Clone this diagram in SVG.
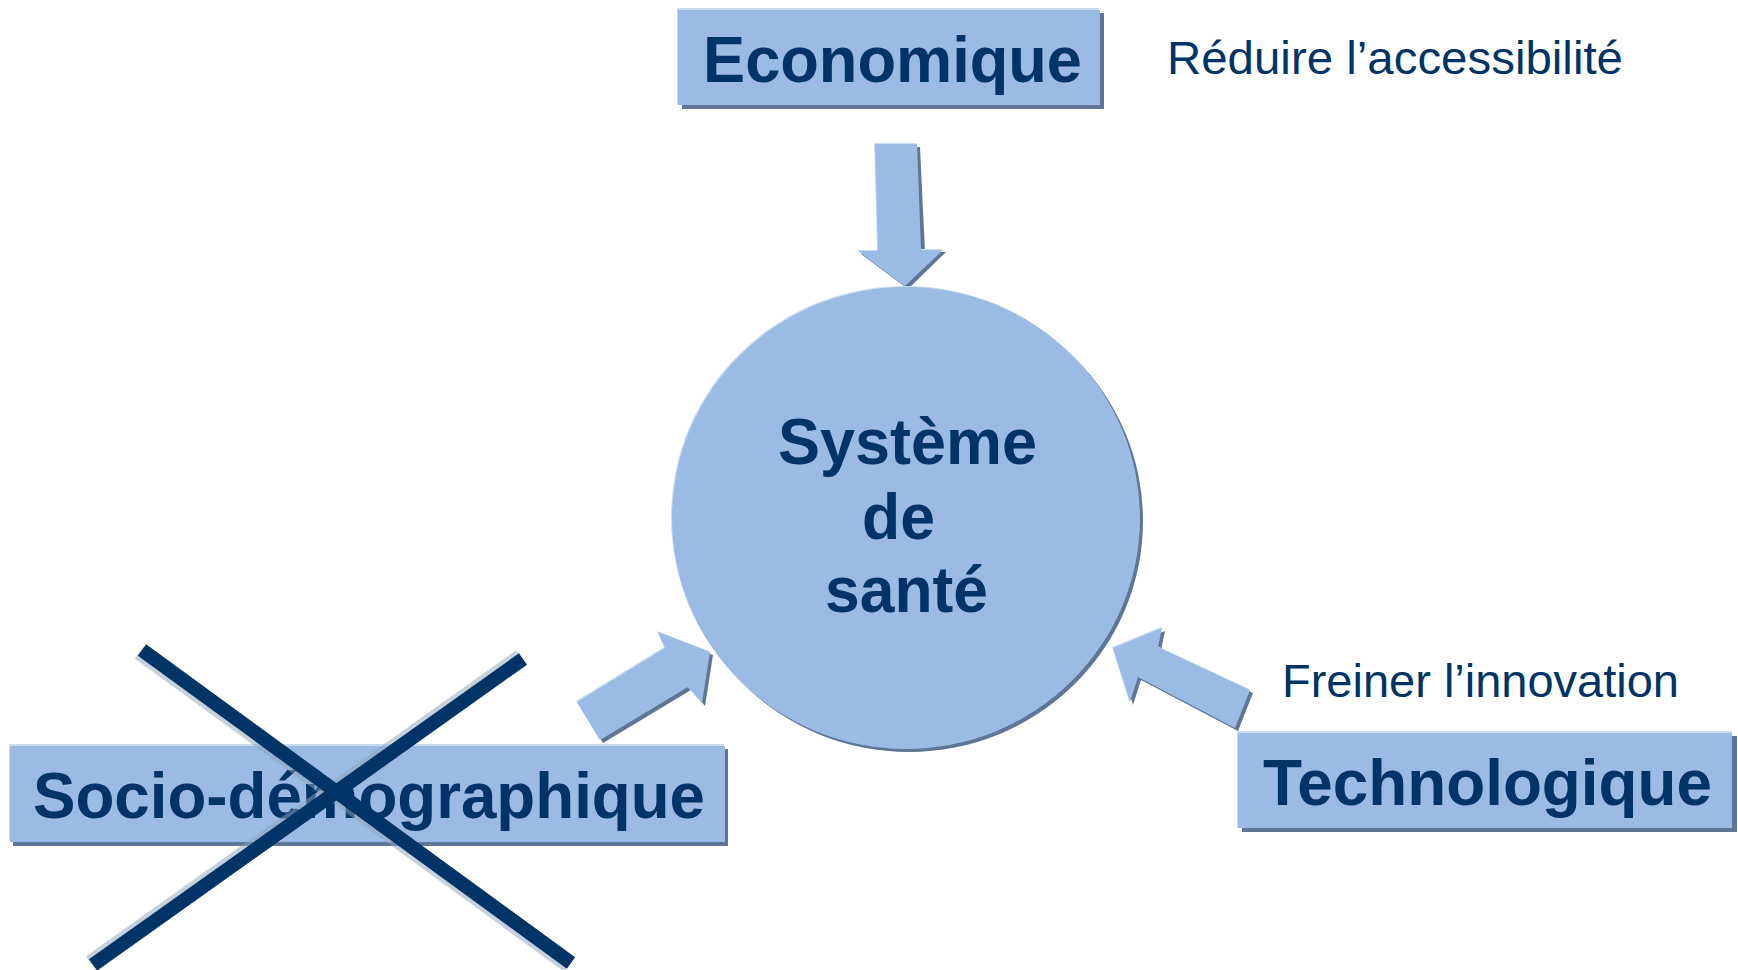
<svg xmlns="http://www.w3.org/2000/svg" width="1738" height="970" viewBox="0 0 1738 970">
  <style>
    .fill { fill: #9BBBE5; }
    .shadow { fill: #5E7595; }
    .hl { fill: #C9DCF2; }
    .bold { font-family: "Liberation Sans", Arial, sans-serif; font-weight: bold; font-size: 64px; fill: #003366; }
    .reg { font-family: "Liberation Sans", Arial, sans-serif; font-size: 47px; fill: #003366; }
    .cross { stroke: #003366; stroke-width: 14; stroke-linecap: butt; fill: none; }
    .crossShadow { stroke: #8FA3BC; stroke-width: 14; stroke-linecap: butt; fill: none; opacity: 0.5; }
  </style>
  <rect width="1738" height="970" fill="#FFFFFF"/>

  <g id="connectors">
    <g id="arrow-economique">
      <polygon class="shadow" points="878,147 920,147 925,252 946,252 908,289 861,254 881,254"/>
      <polygon class="hl" points="874,143 916,143 920,249 942,249 904,285 857,250 877,250"/>
      <polygon class="fill" points="875,144 917,144 921,250 943,250 905,286 858,251 878,251"/>
    </g>
    <g id="arrow-socio">
      <polygon class="shadow" points="580,705 668,651 661,635 713,655 705,706 691,690 603,743"/>
      <polygon class="hl" points="576,701 664,647 657,631 709,651 701,702 687,686 599,739"/>
      <polygon class="fill" points="577,702 665,648 658,632 710,652 702,703 688,687 600,740"/>
    </g>
    <g id="arrow-techno">
      <polygon class="shadow" points="1116,651 1165,631 1161,650 1253,693 1238,731 1141,680 1133,705"/>
      <polygon class="hl" points="1112,647 1161,627 1157,646 1249,689 1234,727 1137,676 1129,701"/>
      <polygon class="fill" points="1113,648 1162,628 1158,647 1250,690 1235,728 1138,677 1130,702"/>
    </g>
  </g>

  <g id="node-economique">
    <rect class="shadow" x="682" y="13" width="422" height="96"/>
    <rect class="hl" x="677" y="8" width="422" height="96"/>
    <rect class="fill" x="678" y="10" width="422" height="95"/>
    <text class="bold" x="703" y="82" textLength="379" lengthAdjust="spacingAndGlyphs">Economique</text>
  </g>

  <g id="label-reduire">
    <text class="reg" x="1167" y="74" textLength="456" lengthAdjust="spacingAndGlyphs">Réduire l’accessibilité</text>
  </g>

  <g id="node-systeme">
    <ellipse class="shadow" cx="909" cy="521" rx="234" ry="231"/>
    <ellipse class="hl" cx="905" cy="517" rx="234" ry="231"/>
    <ellipse class="fill" cx="906" cy="518" rx="234" ry="231"/>
    <text class="bold" x="778" y="464" textLength="259" lengthAdjust="spacingAndGlyphs">Système</text>
    <text class="bold" x="862" y="539" textLength="73" lengthAdjust="spacingAndGlyphs">de</text>
    <text class="bold" x="825" y="612" textLength="163" lengthAdjust="spacingAndGlyphs">santé</text>
  </g>

  <g id="node-socio">
    <rect class="shadow" x="13" y="749" width="715" height="97"/>
    <rect class="hl" x="9" y="744" width="715" height="97"/>
    <rect class="fill" x="10" y="746" width="715" height="96"/>
    <text class="bold" x="33" y="818" textLength="672" lengthAdjust="spacingAndGlyphs">Socio-démographique</text>
  </g>

  <g id="label-freiner">
    <text class="reg" x="1282" y="697" textLength="397" lengthAdjust="spacingAndGlyphs">Freiner l’innovation</text>
  </g>

  <g id="node-techno">
    <rect class="shadow" x="1242" y="736" width="495" height="96"/>
    <rect class="hl" x="1237" y="731" width="495" height="96"/>
    <rect class="fill" x="1238" y="733" width="494" height="95"/>
    <text class="bold" x="1263" y="805" textLength="449" lengthAdjust="spacingAndGlyphs">Technologique</text>
  </g>

  <g id="cross">
    <line class="crossShadow" x1="139" y1="653" x2="568" y2="966"/>
    <line class="crossShadow" x1="520" y1="656" x2="90" y2="962"/>
    <line class="cross" x1="142" y1="650" x2="571" y2="963"/>
    <line class="cross" x1="523" y1="659" x2="93" y2="965"/>
  </g>
</svg>
